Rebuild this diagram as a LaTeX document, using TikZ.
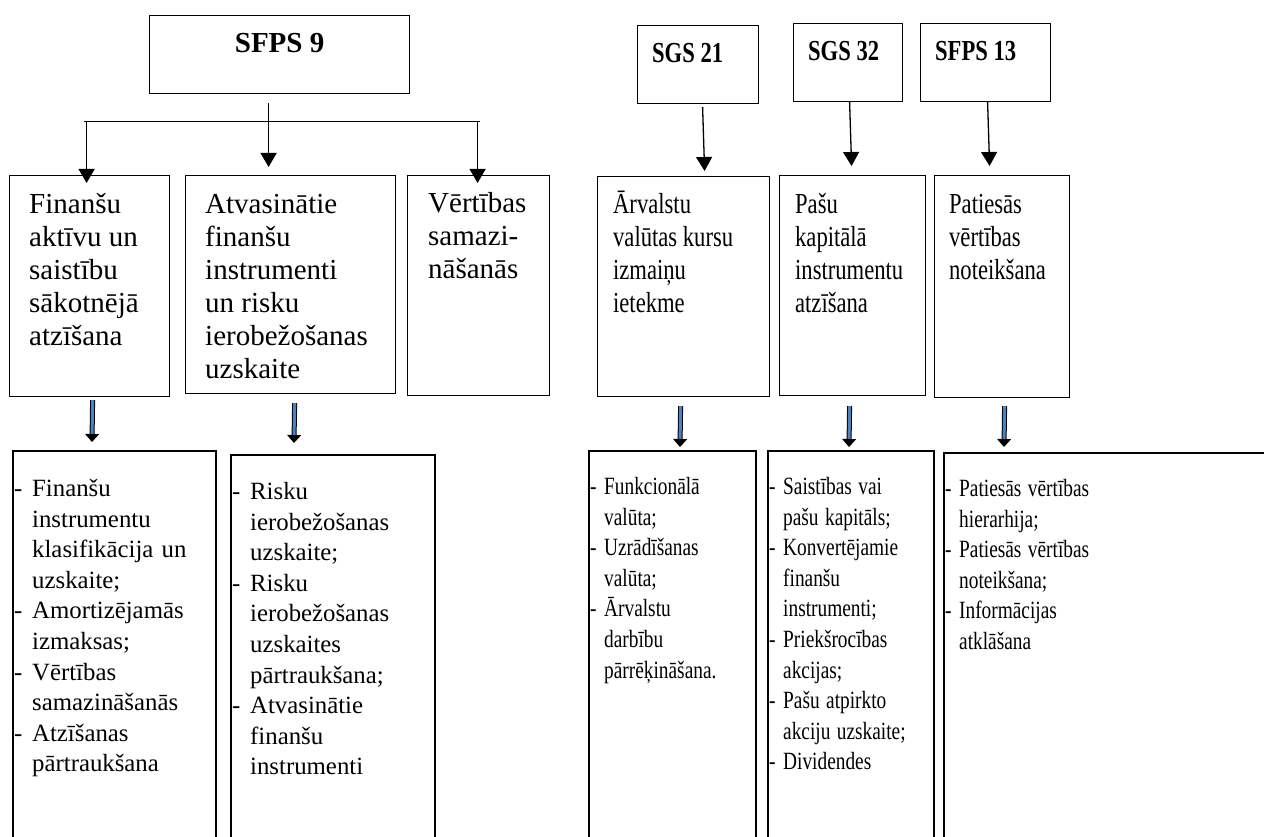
\documentclass[tikz,border=0pt]{standalone}
\usepackage{fontspec}
\setmainfont{Liberation Serif}
\usetikzlibrary{arrows.meta,calc}

\definecolor{arrowblue}{RGB}{79,129,189}

% one dashed item of a list, later lines hang under the text
\newlength{\dashw}
\newcommand{\brk}{\hfil\break}
\newcommand{\itm}[1]{\par\noindent\hangindent=\dashw\hangafter=1\strut\makebox[\dashw][l]{-}#1\par}

\tikzset{
	box/.style={draw, line width=1.2pt, inner sep=0pt, anchor=north west},
	frame/.style={line width=1.2pt},
	narrow/.style={xscale=0.78, transform shape},
	head/.style={font=\bfseries\fontsize{29}{33}\selectfont, inner sep=0pt},
	topic/.style={font=\fontsize{29}{33}\selectfont, inner sep=0pt, anchor=north west, align=left},
	items/.style={font=\fontsize{24.8}{30.6}\selectfont\setlength{\dashw}{#1},
		text width=330pt, inner sep=0pt, anchor=north west},
	arr/.style={line width=1.3pt, -{Triangle[width=16pt,length=14pt]}},
	dbl/.style={draw=black, line width=1pt, double=arrowblue, double distance=3pt,
		-{Triangle[width=14pt,length=8pt,fill=black]}},
}

\begin{document}
\begin{tikzpicture}[x=1pt,y=-1pt]
	\useasboundingbox (0,0) rectangle (1264,837);
	\fill[white] (0,0) rectangle (1264,837);

	% standards
	\node[box, minimum width=260pt, minimum height=78pt] (s9) at (149,15) {};
	\node[box, minimum width=121pt, minimum height=78pt] (s21) at (637,25) {};
	\node[box, minimum width=109pt, minimum height=78pt] (s32) at (793,23) {};
	\node[box, minimum width=130pt, minimum height=78pt] (s13) at (920,23) {};

	\node[head, anchor=base] (s9t) at ($(s9.north)+(0,38)$) {SFPS 9};
	\node[head, narrow, anchor=base west] (s21t) at ($(s21.north west)+(15,38)$) {SGS 21};
	\node[head, narrow, anchor=base west] (s32t) at ($(s32.north west)+(15,38)$) {SGS 32};
	\node[head, narrow, anchor=base west] (s13t) at ($(s13.north west)+(15,38)$) {SFPS 13};

	% topics
	\node[box, minimum width=160pt, minimum height=221pt] (f1) at (9,175) {};
	\node[box, minimum width=210pt, minimum height=218pt] (f2) at (185,175) {};
	\node[box, minimum width=142pt, minimum height=220pt] (f3) at (407,175) {};
	\node[box, minimum width=172pt, minimum height=220pt] (f4) at (597,176) {};
	\node[box, minimum width=146pt, minimum height=220pt] (f5) at (779,175) {};
	\node[box, minimum width=135pt, minimum height=222pt] (f6) at (934,175) {};

	\node[topic] (f1t) at ($(f1.north west)+(20,15)$) {\strut Finanšu\\aktīvu un\\saistību\\sākotnējā\\atzīšana};
	\node[topic] (f2t) at ($(f2.north west)+(20,15)$) {\strut Atvasinātie\\finanšu\\instrumenti\\un risku\\ierobežošanas\\uzskaite};
	\node[topic] (f3t) at ($(f3.north west)+(21,14)$) {\strut Vērtības\\samazi-\\nāšanās};
	\node[topic, narrow] (f4t) at ($(f4.north west)+(16,14)$) {\strut Ārvalstu\\valūtas kursu\\izmaiņu\\ietekme};
	\node[topic, narrow] (f5t) at ($(f5.north west)+(16,15)$) {\strut Pašu\\kapitālā\\instrumentu\\atzīšana};
	\node[topic, narrow] (f6t) at ($(f6.north west)+(15,15)$) {\strut Patiesās\\vērtības\\noteikšana};

	% arrows from the standards
	\coordinate (bar) at ($(s9.south)+(-11,27)$);
	\draw[frame, line width=1.3pt] ($(bar)+(-185,0)$) -- ($(bar)+(211,0)$);
	\draw[arr] ($(s9.south)+(-11,9)$) -- ($(f2.north)+(-22,-8)$);
	\draw[arr] ($(bar)+(-182,0)$) -- ($(f1.north)+(-3,8)$);
	\draw[arr] ($(bar)+(209,0)$) -- ($(f3.north)+(-1,8)$);
	\draw[arr] ($(s21.south)+(4.5,3)$) -- ($(f4.north)+(21,-5)$);
	\draw[arr] ($(s32.south)+(1.5,0)$) -- ($(f5.north)+(-1,-9)$);
	\draw[arr] ($(s13.south)+(2,0)$) -- ($(f6.north)+(-12.5,-9)$);

	% open lists at the bottom
	\coordinate (d1) at (13,451);
	\coordinate (d2) at (231,455);
	\coordinate (d4) at (589,451);
	\coordinate (d5) at (768,451);
	\coordinate (d6) at (944,453);

	\draw[frame] ($(d1)+(0,386)$) -- (d1) -- ++(203,0) -- ++(0,386);
	\draw[frame] ($(d2)+(0,382)$) -- (d2) -- ++(204,0) -- ++(0,382);
	\draw[frame] ($(d4)+(0,386)$) -- (d4) -- ++(167,0) -- ++(0,386);
	\draw[frame] ($(d5)+(0,386)$) -- (d5) -- ++(166,0) -- ++(0,386);
	\draw[frame] ($(d6)+(0,384)$) -- (d6) -- ++(320,0);

	\node[items=18pt] (d1t) at ($(d1)+(1,14.6)$) {%
		\itm{Finanšu\brk instrumentu\brk klasifikācija un\brk uzskaite;}
		\itm{Amortizējamās\brk izmaksas;}
		\itm{Vērtības\brk samazināšanās}
		\itm{Atzīšanas\brk pārtraukšana}};
	\node[items=18pt] (d2t) at ($(d2)+(1,13.6)$) {%
		\itm{Risku\brk ierobežošanas\brk uzskaite;}
		\itm{Risku\brk ierobežošanas\brk uzskaites\brk pārtraukšana;}
		\itm{Atvasinātie\brk finanšu\brk instrumenti}};
	\node[items=18pt, narrow] (d4t) at ($(d4)+(1,12.6)$) {%
		\itm{Funkcionālā\brk valūta;}
		\itm{Uzrādīšanas\brk valūta;}
		\itm{Ārvalstu\brk darbību\brk pārrēķināšana.}};
	\node[items=18pt, narrow] (d5t) at ($(d5)+(1,12.6)$) {%
		\itm{Saistības vai\brk pašu kapitāls;}
		\itm{Konvertējamie\brk finanšu\brk instrumenti;}
		\itm{Priekšrocības\brk akcijas;}
		\itm{Pašu atpirkto\brk akciju uzskaite;}
		\itm{Dividendes}};
	\node[items=18pt, narrow] (d6t) at ($(d6)+(1,12.6)$) {%
		\itm{Patiesās vērtības\brk hierarhija;}
		\itm{Patiesās vērtības\brk noteikšana;}
		\itm{Informācijas\brk atklāšana}};

	% hollow arrows down to the lists
	\draw[dbl] ($(f1.south)+(3,3)$) -- ($(d1)+(79,-9)$);
	\draw[dbl] ($(f2.south)+(4,9)$) -- ($(d2)+(63,-12)$);
	\draw[dbl] ($(f4.south)+(-3,9)$) -- ($(d4)+(91,-4)$);
	\draw[dbl] ($(f5.south)+(-3,10)$) -- ($(d5)+(81,-4)$);
	\draw[dbl] ($(f6.south)+(2.5,8)$) -- ($(d6)+(60,-6)$);

\end{tikzpicture}
\end{document}
